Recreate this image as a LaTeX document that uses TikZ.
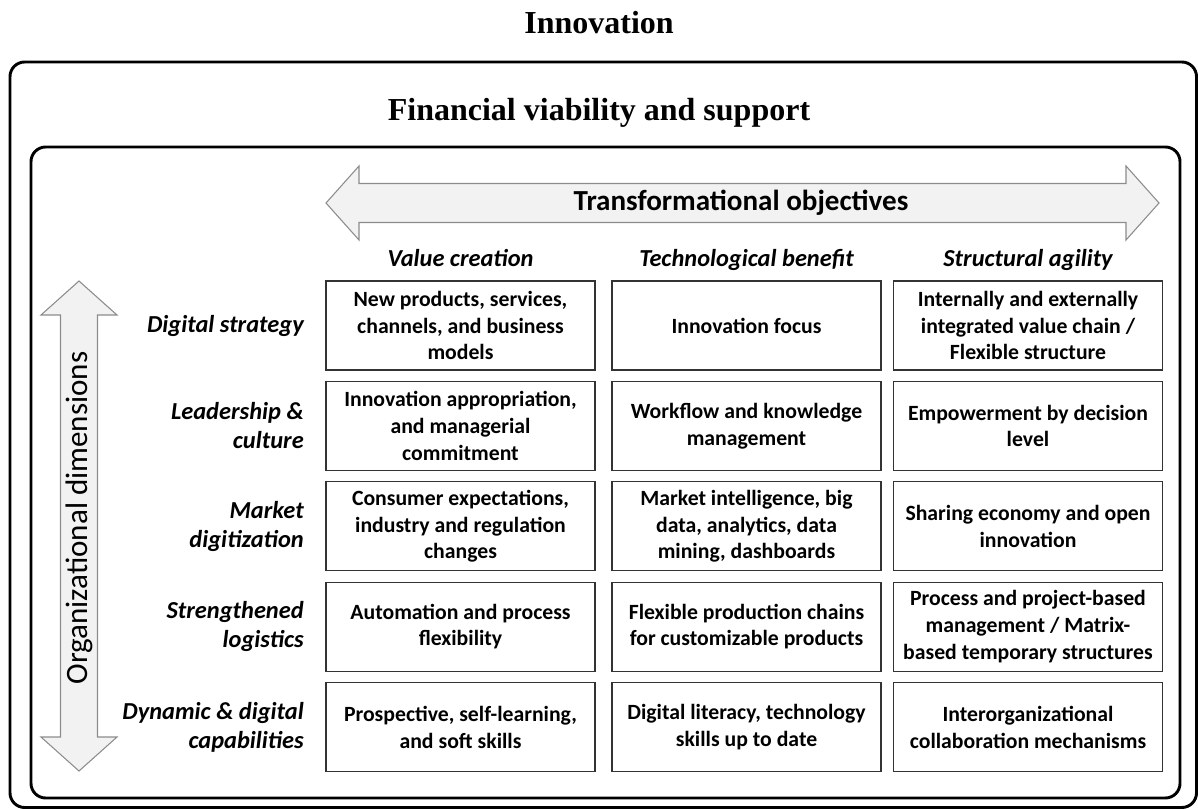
\documentclass[tikz,border=0pt]{standalone}
\usepackage{fontspec}
\setmainfont{Liberation Serif}
\newfontfamily\carlito{Carlito}
\usepackage{tikz}
\usetikzlibrary{positioning}
\definecolor{arrowfill}{HTML}{F2F2F2}
\definecolor{arrowline}{HTML}{8C8C8C}

\begin{document}
\begin{tikzpicture}[x=0.75pt,y=-0.75pt,
    frame/.style={draw=black,line width=2.2pt,rounded corners=11pt},
    bigarrow/.style={draw=arrowline,fill=arrowfill,line width=0.8pt},
    cell/.style={draw=black!80,line width=0.9pt,minimum width=201.75pt,minimum height=66.75pt,
      inner sep=0pt,align=center,font=\carlito\bfseries\fontsize{16.3}{20}\selectfont},
    rowlab/.style={anchor=east,align=right,inner sep=0pt,font=\carlito\bfseries\itshape\fontsize{18.3}{21.8}\selectfont},
    colhead/.style={inner sep=0pt,text height=13pt,text depth=4pt,font=\carlito\bfseries\itshape\fontsize{18.3}{21.8}\selectfont}]
  \useasboundingbox (0,0) rectangle (1198,809);
  % titles and the two frames
  \node[anchor=base,font=\bfseries\fontsize{24}{28}\selectfont] (innov) at (599,34) {Innovation};
  \draw[frame] (10,62) rectangle (1196.5,807.5);
  \node[anchor=base,font=\bfseries\fontsize{24}{28}\selectfont] (fin) at (599,121) {Financial viability and support};
  \draw[frame] (31,147) rectangle (1180,798);
  % double arrows
  \filldraw[bigarrow] (326,203)--(359,166)--(359,183.5)--(1126,183.5)--(1126,166)--(1159,203)
    --(1126,240)--(1126,222.5)--(359,222.5)--(359,240)--cycle;
  \node[font=\carlito\bfseries\fontsize{21.8}{26}\selectfont] (obj) at (741,203) {Transformational objectives};
  \filldraw[bigarrow] (79,281)--(117,315)--(97.5,315)--(97.5,737)--(117,737)--(79,771)
    --(41,737)--(60.5,737)--(60.5,315)--(41,315)--cycle;
  \node[rotate=90,font=\carlito\fontsize{23.3}{28}\selectfont] (dims) at (79,518) {Organizational dimensions};
  % rows
  \foreach \r/\t in {1/Digital strategy,2/{Leadership \&\\ culture},3/{Market\\ digitization},
      4/{Strengthened\\ logistics},5/{Dynamic \& digital\\ capabilities}}
    \node[rowlab] (r\r) at (304,{225.1+100.4*\r}) {\t};
  % value creation
  \foreach \r/\t in {1/{New products, services,\\ channels, and business\\ models},
      2/{Innovation appropriation,\\ and managerial\\ commitment},
      3/{Consumer expectations,\\ industry and regulation\\ changes},
      4/{Automation and process\\ flexibility},
      5/{Prospective, self-learning,\\ and soft skills}}
    \node[cell] (v\r) at (460.5,{225.1+100.4*\r}) {\t};
  % technological benefit
  \foreach \r/\t in {1/Innovation focus,
      2/{Workflow and knowledge\\ management},
      3/{Market intelligence, big\\ data, analytics, data\\ mining, dashboards},
      4/{Flexible production chains\\ for customizable products},
      5/{Digital literacy, technology\\ skills up to date}}
    \node[cell] (t\r) at (746.5,{225.1+100.4*\r}) {\t};
  % structural agility
  \foreach \r/\t in {1/{Internally and externally\\ integrated value chain /\\ Flexible structure},
      2/{Empowerment by decision\\ level},
      3/{Sharing economy and open\\ innovation},
      4/{Process and project-based\\ management / Matrix-\\ based temporary structures},
      5/{Interorganizational\\ collaboration mechanisms}}
    \node[cell] (s\r) at (1028,{225.1+100.4*\r}) {\t};
  \node[colhead,above=6pt of v1] (hv) {Value creation};
  \node[colhead,above=6pt of t1] (ht) {Technological benefit};
  \node[colhead,above=6pt of s1] (hs) {Structural agility};
\end{tikzpicture}
\end{document}
